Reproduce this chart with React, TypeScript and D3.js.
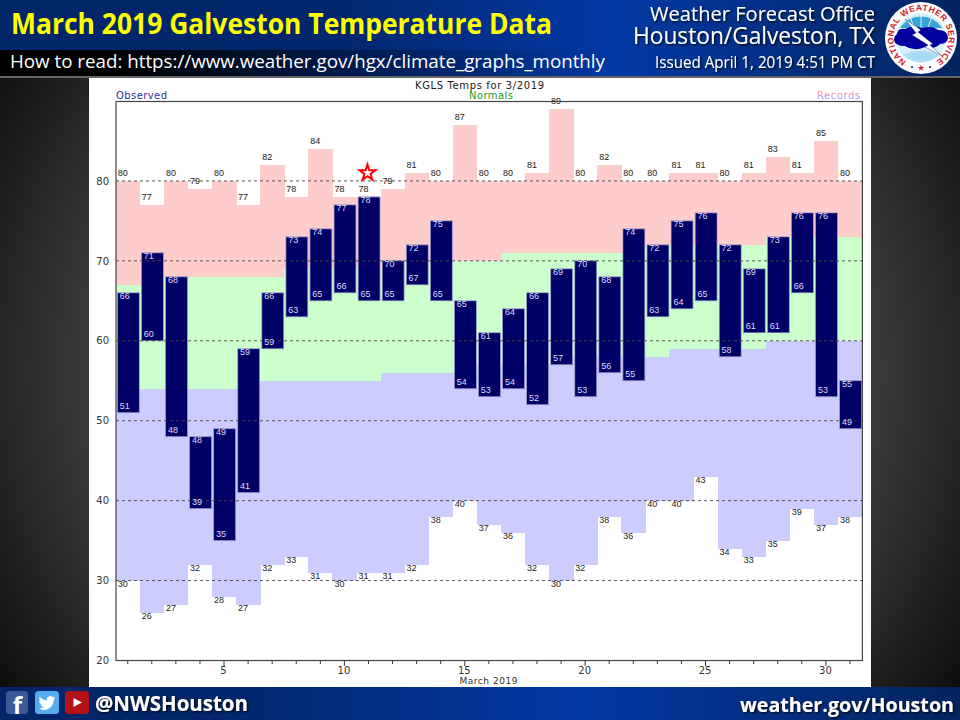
import React, { useEffect, useRef } from "react";
import * as d3 from "d3";

const days = d3.range(1, 32);
const recordHigh = [80,77,80,79,80,77,82,78,84,78,78,79,81,80,87,80,80,81,89,80,82,80,80,81,81,80,81,83,81,85,80];
const recordLow = [30,26,27,32,28,27,32,33,31,30,31,31,32,38,40,37,36,32,30,32,38,36,40,40,43,34,33,35,39,37,38];
const normalHigh = [67,67,68,68,68,68,68,69,69,69,69,70,70,70,70,70,71,71,71,71,71,71,72,72,72,72,72,73,73,73,73];
const normalLow = [54,54,54,54,54,54,55,55,55,55,55,56,56,56,56,57,57,57,57,58,58,58,58,59,59,59,59,60,60,60,60];
const observedHigh = [66,71,68,48,49,59,66,73,74,77,78,70,72,75,65,61,64,66,69,70,68,74,72,75,76,72,69,73,76,76,55];
const observedLow = [51,60,48,39,35,41,59,63,65,66,65,65,67,65,54,53,54,52,57,53,56,55,63,64,65,58,61,61,66,53,49];
const gridValues = [30, 40, 50, 60, 70, 80];
const yTickValues = [20, 30, 40, 50, 60, 70, 80];
const xLabelDays = [5, 10, 15, 20, 25, 30];
const starDay = 11;
const starValue = 81;

const x = d3.scaleBand<number>().domain(days).range([115.7, 862]);
const y = d3.scaleLinear().domain([20, 90]).range([660.5, 101]);
const bw = x.bandwidth();
const cx = (d: number) => (x(d) as number) + bw / 2;
const SANS = "'Open Sans', 'Noto Sans', sans-serif";
const CHART = "'DejaVu Sans', Verdana, sans-serif";
const SMALL = "'Liberation Sans', Arial, sans-serif";
const LABEL = "#333";

const starPath = d3.symbol().type(d3.symbolStar).size(78)() as string;

function Band({ top, bottom, fill }: { top: number[]; bottom: number[]; fill: string }) {
  return (
    <g shapeRendering="crispEdges">
      {days.map((d, i) => (
        <rect key={d} x={x(d)} width={bw + 0.5} y={y(top[i])} height={y(bottom[i]) - y(top[i])} fill={fill} />
      ))}
    </g>
  );
}

export default function App() {
  const xRef = useRef<SVGGElement>(null);
  const yRef = useRef<SVGGElement>(null);
  useEffect(() => {
    const gx = d3.select(xRef.current as SVGGElement);
    gx.call(
      d3.axisBottom(x).tickSize(3).tickPadding(3).tickFormat((d) => (xLabelDays.includes(d as number) ? String(d) : "")) as any
    );
    gx.select(".domain").remove();
    gx.selectAll(".tick line").attr("stroke", LABEL).attr("y2", (d) => (xLabelDays.includes(d as number) ? 5 : 3));
    gx.selectAll(".tick text").attr("y", 6).attr("dy", "0.71em").attr("dx", -0.5).attr("fill", LABEL).style("font-family", CHART).style("font-size", "10px");
    const gy = d3.select(yRef.current as SVGGElement);
    gy.call(d3.axisLeft(y).tickValues(yTickValues).tickSize(0).tickPadding(0).tickFormat(d3.format("d")) as any);
    gy.select(".domain").remove();
    gy.selectAll(".tick text").attr("fill", LABEL).style("font-family", CHART).style("font-size", "10px");
  }, []);

  return (
    <svg width={960} height={720} viewBox="0 0 960 720" style={{ position: "absolute", left: 0, top: 0 }}>
      <defs>
        <radialGradient id="bg" gradientUnits="userSpaceOnUse" cx={480} cy={370} r={610}>
          <stop offset="0" stopColor="#6a6a6a" />
          <stop offset="0.62" stopColor="#3e3e3e" />
          <stop offset="1" stopColor="#050505" />
        </radialGradient>
        <linearGradient id="bannerTop" x1="0" x2="1" y1="0" y2="0">
          <stop offset="0" stopColor="#03256a" />
          <stop offset="0.35" stopColor="#03266c" />
          <stop offset="0.64" stopColor="#0339a5" />
          <stop offset="1" stopColor="#03245f" />
        </linearGradient>
        <linearGradient id="bannerMid" x1="0" x2="1" y1="0" y2="0">
          <stop offset="0" stopColor="#000000" />
          <stop offset="0.12" stopColor="#000000" />
          <stop offset="0.64" stopColor="#0339a5" />
          <stop offset="1" stopColor="#03245f" />
        </linearGradient>
        <linearGradient id="bannerBot" x1="0" x2="1" y1="0" y2="0">
          <stop offset="0" stopColor="#03256a" />
          <stop offset="0.25" stopColor="#03266c" />
          <stop offset="0.6" stopColor="#0339a5" />
          <stop offset="1" stopColor="#03245f" />
        </linearGradient>
        <linearGradient id="rec" x1="0" x2="0" y1="0" y2="1">
          <stop offset="0.2" stopColor="#ff9999" />
          <stop offset="0.75" stopColor="#9999ff" />
        </linearGradient>
        <filter id="shadow" x="-5%" y="-20%" width="110%" height="150%">
          <feDropShadow dx="1.2" dy="1.2" stdDeviation="0.8" floodColor="#000" floodOpacity="0.9" />
        </filter>
        <path id="logoRing" d="M 921 65.5 A 27.5 27.5 0 1 1 921.01 65.5" />
      </defs>

      <rect width={960} height={720} fill="url(#bg)" />
      <rect x={0} y={0} width={960} height={50} fill="url(#bannerTop)" />
      <rect x={0} y={50} width={960} height={26} fill="url(#bannerMid)" />
      <rect x={0} y={76} width={960} height={2} fill="#666" />
      <rect x={89} y={78} width={782} height={609} fill="#fff" />
      <rect x={0} y={687} width={960} height={33} fill="url(#bannerBot)" />

      <Band top={recordHigh} bottom={normalHigh} fill="#ffcccc" />
      <Band top={normalHigh} bottom={normalLow} fill="#ccffcc" />
      <Band top={normalLow} bottom={recordLow} fill="#ccccff" />

      {days.map((d, i) => (
        <rect
          key={d}
          x={(x(d) as number) + 1.7}
          width={bw - 2.2}
          y={y(observedHigh[i])}
          height={y(observedLow[i]) - y(observedHigh[i])}
          fill="#000066"
          stroke="#9a9acc"
          strokeWidth={0.7}
        />
      ))}

      {gridValues.map((v) => (
        <line key={v} x1={116} x2={862} y1={y(v)} y2={y(v)} stroke="#444" strokeWidth={0.9} strokeDasharray="3 3" />
      ))}

      <g fontFamily={SMALL} fontSize={9} textAnchor="middle" dominantBaseline="central">
        {days.map((d, i) => (
          <g key={d}>
            <text x={cx(d) - 5} y={y(recordHigh[i]) - 8} fill="#222">{recordHigh[i]}</text>
            <text x={cx(d) - 5} y={y(recordLow[i]) + 3.5} fill="#222">{recordLow[i]}</text>
            <text x={cx(d) - 3} y={y(observedHigh[i]) + 3.2} fill="#ddddff">{observedHigh[i]}</text>
            <text x={cx(d) - 3} y={y(observedLow[i]) - 6.5} fill="#ddddff">{observedLow[i]}</text>
          </g>
        ))}
      </g>

      <path
        d={starPath}
        transform={`translate(${cx(starDay) - 1},${y(starValue)})`}
        fill="#fff"
        stroke="#ff0000"
        strokeWidth={2}
      />

      <rect x={116} y={101.5} width={746.4} height={559} fill="none" stroke="#444" strokeWidth={1.2} />
      <g ref={xRef} transform="translate(0,661)" />
      <g ref={yRef} transform="translate(109,0)" />

      <g fontFamily={CHART} fontSize={10}>
        <text x={479.5} y={89} textAnchor="middle" fill="#222" textLength={129}>KGLS Temps for 3/2019</text>
        <text x={116} y={99} fill="#333399" textLength={51}>Observed</text>
        <text x={469} y={99} fill="#229922" textLength={44}>Normals</text>
        <text x={817} y={99} fill="url(#rec)" textLength={43}>Records</text>
        <text x={488.5} y={684} textAnchor="middle" fontSize={9} fill={LABEL} textLength={58}>March 2019</text>
      </g>

      <g fontFamily={SANS}>
        <text x={11} y={34} fontSize={28} fontWeight={700} fill="#ffff00" textLength={541} lengthAdjust="spacingAndGlyphs">
          March 2019 Galveston Temperature Data
        </text>
        <text x={10} y={68} fontSize={19} fill="#fff" textLength={595} lengthAdjust="spacingAndGlyphs">
          How to read: https://www.weather.gov/hgx/climate_graphs_monthly
        </text>
        <g fill="#fff" filter="url(#shadow)">
          <text x={650} y={21} fontSize={20.5} textLength={225} lengthAdjust="spacingAndGlyphs">Weather Forecast Office</text>
          <text x={633} y={44} fontSize={23} textLength={242} lengthAdjust="spacingAndGlyphs">Houston/Galveston, TX</text>
          <text x={655} y={67.5} fontSize={16} textLength={220} lengthAdjust="spacingAndGlyphs">Issued April 1, 2019 4:51 PM CT</text>
          <text x={95} y={711} fontSize={20.5} fontWeight={700} textLength={153} lengthAdjust="spacingAndGlyphs">@NWSHouston</text>
          <text x={740} y={711.5} fontSize={20} fontWeight={700} textLength={214} lengthAdjust="spacingAndGlyphs">weather.gov/Houston</text>
        </g>
      </g>

      {/* NWS logo */}
      <g>
        <circle cx={921} cy={38} r={36} fill="#ffffff" />
        <circle cx={921} cy={38} r={25} fill="#d6eef8" />
        <path d="M 900 28 A 25 25 0 0 1 942 28 Z" fill="#38a6d8" />
        <path d="M 921 13 V 28 M 910 16 L 914 28 M 932 16 L 928 28" stroke="#fff" strokeWidth={0.8} />
        <path
          d="M 897 34 Q 898 28 905 29 Q 912 25 922 28 Q 932 25 938 30 Q 947 30 948 37 Q 948 44 940 44 Q 934 50 925 47 Q 914 52 905 46 Q 895 46 894 40 Q 894 36 897 34 Z"
          fill="#0000a0"
        />
        <path d="M 903 55 Q 921 47 939 55 Q 930 62 921 62 Q 911 62 903 55 Z" fill="#a9dcf2" />
        <path d="M 905 19 L 921 30 L 918 32 L 933 44 L 930 45 L 942 56 L 925 47 L 928 45 L 912 35 L 916 33 Z" fill="#fff" stroke="#0b1c6a" strokeWidth={0.4} />
        <text fontFamily="'Liberation Sans', sans-serif" fontWeight={700} fontSize={8.5} fill="#d3202b" textLength={141}>
          <textPath href="#logoRing" startOffset="9%" textLength={141}>NATIONAL WEATHER SERVICE</textPath>
        </text>
        <path d={d3.symbol().type(d3.symbolStar).size(14)() as string} transform="translate(921,68)" fill="#d3202b" />
        <circle cx={912} cy={67} r={1.1} fill="#1a2c9a" />
        <circle cx={930} cy={67} r={1.1} fill="#1a2c9a" />
      </g>

      {/* social icons */}
      <g>
        <rect x={6} y={691} width={22} height={23} rx={3.5} fill="#3b5998" />
        <text x={17.5} y={714} textAnchor="middle" fontFamily={SANS} fontWeight={700} fontSize={24} fill="#fff">f</text>
        <rect x={35} y={691} width={24} height={23} rx={3.5} fill="#55acee" />
        <path
          transform="translate(38.5,694.5) scale(0.71)"
          fill="#fff"
          d="M23.95 4.57a10 10 0 0 1-2.82.77 4.96 4.96 0 0 0 2.16-2.72c-.95.55-2 .96-3.13 1.2a4.92 4.92 0 0 0-8.38 4.48A14 14 0 0 1 1.67 3.15a4.82 4.82 0 0 0-.67 2.48c0 1.71.87 3.21 2.19 4.1a4.9 4.9 0 0 1-2.23-.62v.06a4.92 4.92 0 0 0 3.95 4.83 5 5 0 0 1-2.21.08 4.94 4.94 0 0 0 4.6 3.42A9.87 9.87 0 0 1 0 19.54a14 14 0 0 0 7.56 2.21c9.05 0 14-7.5 14-14 0-.21 0-.42-.02-.63A9.94 9.94 0 0 0 24 4.59z"
        />
        <rect x={65} y={691} width={24} height={23} rx={3.5} fill="#b31217" />
        <path d="M 73.5 698 L 82 702.5 L 73.5 707 Z" fill="#fff" />
      </g>
    </svg>
  );
}
